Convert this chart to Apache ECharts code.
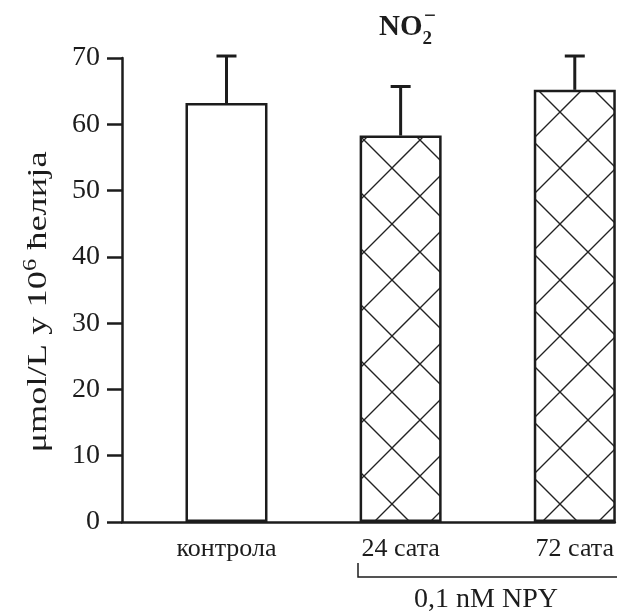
<!DOCTYPE html>
<html lang="sr">
<head>
<meta charset="UTF-8">
<title>NO2</title>
<script src="https://cdn.jsdelivr.net/npm/echarts@6/dist/echarts.min.js"></script>
<style>
    html, body { margin: 0; padding: 0; background: #fff; }
    #chart { width: 617px; height: 614px; }
</style>
</head>
<body>
<div id="chart"></div>
<script>
    // podaci ocitani sa slike
    var categories = ['контрола', '24 сата', '72 сата'];
    var means = [63.2, 58.3, 65.2];
    var sds = [7.1, 7.4, 5.1];
    var yMin = 0, yMax = 70, yStep = 10;

    var ink = '#1c1c1c';
    var serif = '"Liberation Serif", "DejaVu Serif", serif';

    // unakrsno srafiranje za NPY stubice
    function hatchCanvas(s) {
        var c = document.createElement('canvas');
        c.width = s; c.height = s;
        var g = c.getContext('2d');
        g.fillStyle = '#fff';
        g.fillRect(0, 0, s, s);
        g.strokeStyle = '#222';
        g.lineWidth = 1.4;
        g.beginPath();
        g.moveTo(-2, -2); g.lineTo(s + 2, s + 2);
        g.moveTo(s + 2, -2); g.lineTo(-2, s + 2);
        g.stroke();
        return c;
    }
    var hatch = { image: hatchCanvas(56), repeat: 'repeat' };

    var barData = [];
    var errData = [];
    for (var i = 0; i < categories.length; i++) {
        barData.push({
            value: [i + 1, means[i]],
            itemStyle: { color: i === 0 ? '#fff' : hatch }
        });
        errData.push([i + 1, means[i], sds[i]]);
    }

    var chart = echarts.init(document.getElementById('chart'));
    var option = {
        animation: false,
        title: [{
            text: '{n|NO}{s|2}',
            left: 374, top: 8,
            textStyle: {
                rich: {
                    n: { fontFamily: serif, fontSize: 29, fontWeight: 'bold', color: ink, padding: [0, 0, 7, 0], verticalAlign: 'bottom' },
                    s: { fontFamily: serif, fontSize: 19, fontWeight: 'bold', color: ink, verticalAlign: 'bottom' }
                }
            }
        }, {
            text: '−',
            left: 419, top: 1,
            textStyle: { fontFamily: serif, fontSize: 21, fontWeight: 'bold', color: ink }
        }],
        grid: { left: 122, right: 0, top: 58, bottom: 92 },
        xAxis: {
            type: 'value',
            min: 0.4,
            max: 3.23,
            splitLine: { show: false },
            axisLine: { show: true, onZero: false, lineStyle: { color: ink, width: 2.5 } },
            axisTick: { show: false },
            axisLabel: {
                customValues: [1, 2, 3],
                margin: 14,
                fontFamily: serif,
                fontSize: 26,
                color: ink,
                formatter: function (v) { return categories[Math.round(v) - 1]; }
            }
        },
        yAxis: {
            type: 'value',
            min: yMin, max: yMax, interval: yStep,
            splitLine: { show: false },
            axisLine: { show: true, lineStyle: { color: ink, width: 2.5 } },
            axisTick: { show: true, length: 15, lineStyle: { color: ink, width: 2.5 } },
            axisLabel: { margin: 22, fontFamily: serif, fontSize: 28, color: ink }
        },
        series: [{
            type: 'bar',
            barWidth: 82,
            data: barData,
            itemStyle: { borderColor: ink, borderWidth: 2.5 }
        }, {
            type: 'custom',
            z: 5,
            data: errData,
            renderItem: function (params, api) {
                var x = api.value(0), m = api.value(1), s = api.value(2);
                var base = api.coord([x, m]);
                var top = api.coord([x, m + s]);
                return {
                    type: 'group',
                    children: [{
                        type: 'line',
                        shape: { x1: base[0], y1: base[1], x2: top[0], y2: top[1] },
                        style: { stroke: ink, lineWidth: 3 }
                    }, {
                        type: 'line',
                        shape: { x1: top[0] - 10, y1: top[1], x2: top[0] + 10, y2: top[1] },
                        style: { stroke: ink, lineWidth: 3 }
                    }]
                };
            }
        }],
        graphic: [{
            // naziv y ose, izduzen kao na originalu
            type: 'text',
            x: 37, y: 302,
            rotation: Math.PI / 2,
            scaleX: 1.35,
            style: {
                text: '{a|μmol/L у 10}{p|6}{a| ћелија}',
                align: 'center',
                verticalAlign: 'middle',
                rich: {
                    a: { fontFamily: serif, fontSize: 27, fill: ink, verticalAlign: 'bottom' },
                    p: { fontFamily: serif, fontSize: 18, fill: ink, padding: [0, 0, 12, 0], verticalAlign: 'bottom' }
                }
            }
        }, {
            type: 'polyline',
            shape: { points: [[358, 563], [358, 577], [617, 577]] },
            style: { stroke: ink, lineWidth: 1.5, fill: null }
        }, {
            type: 'text',
            x: 486, y: 600,
            style: {
                text: '0,1 nM NPY',
                font: '28px ' + serif,
                fill: ink,
                align: 'center',
                verticalAlign: 'middle'
            }
        }]
    };
    chart.setOption(option);
</script>
</body>
</html>
